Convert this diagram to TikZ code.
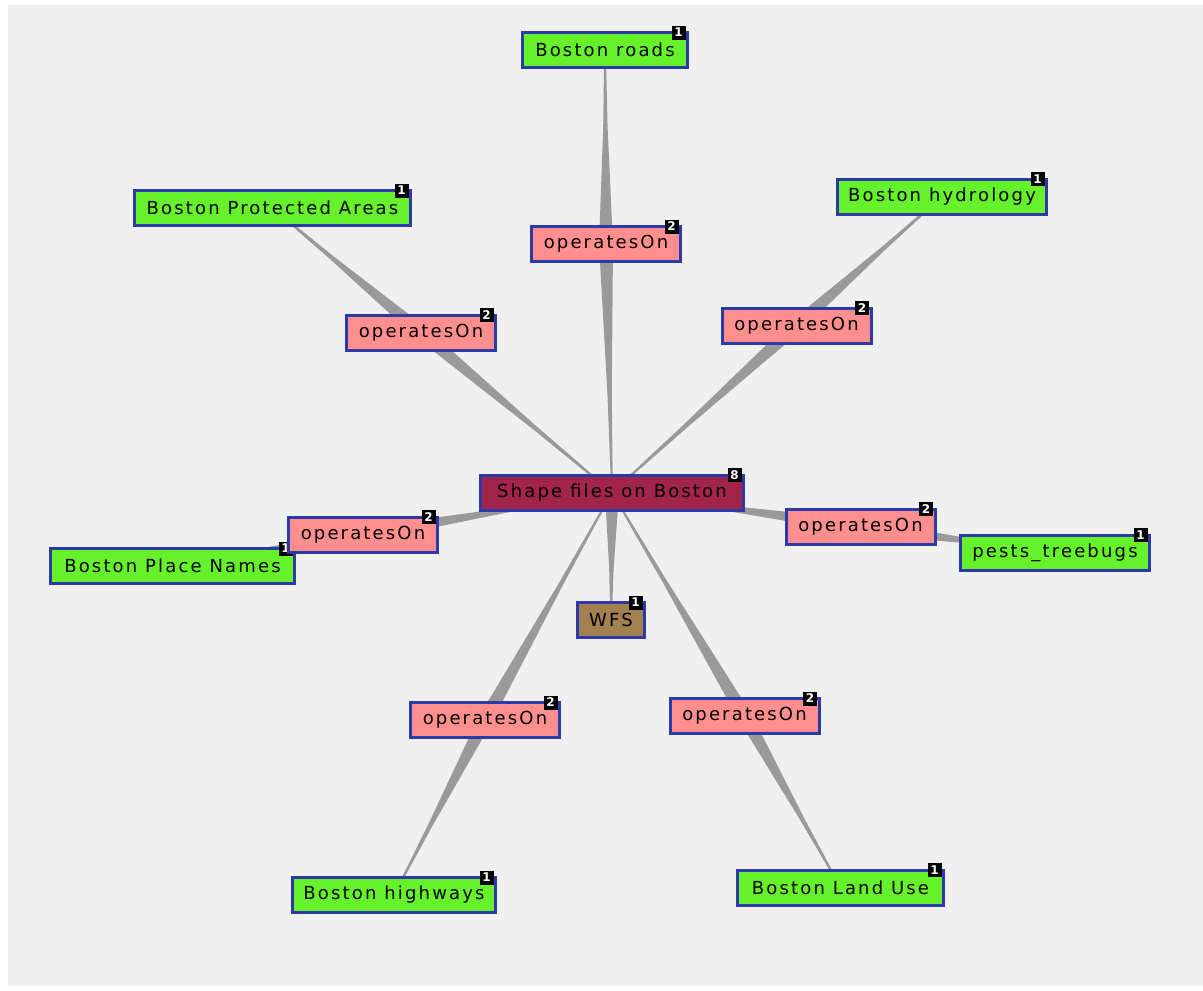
\documentclass[tikz,border=0pt]{standalone}
\usepackage{fontspec}
\usetikzlibrary{calc}
\newfontfamily\nf[LetterSpace=12]{DejaVu Sans}
\newfontfamily\badgefont{DejaVu Sans Bold}
\definecolor{bgcol}{HTML}{F0F0F0}
\definecolor{bordercol}{HTML}{2B3AA6}
\definecolor{leafgreen}{HTML}{66F22A}
\definecolor{oppink}{HTML}{FF8F8F}
\definecolor{centerred}{HTML}{A3244A}
\definecolor{wfsbrown}{HTML}{A3804F}
\definecolor{edgecol}{HTML}{9A9A9A}
\pgfdeclarelayer{bg}
\pgfsetlayers{bg,main}
\newcommand\tedge[2]{\fill[edgecol]
  ($(#1.center)!7pt!90:(#2.center)$) --
  ($($(#1.center)!0.6!(#2.center)$)!2.2pt!90:(#2.center)$) --
  ($(#2.center)!0.8pt!-90:(#1.center)$) --
  ($(#2.center)!0.8pt!90:(#1.center)$) --
  ($($(#1.center)!0.6!(#2.center)$)!2.2pt!-90:(#2.center)$) --
  ($(#1.center)!7pt!-90:(#2.center)$) -- cycle;}
\tikzset{
  box/.style={draw=bordercol, line width=3pt, minimum height=35pt, inner sep=0pt, text=black, font=\nf\fontsize{18}{18}\selectfont},
  leaf/.style={box, fill=leafgreen},
  opbox/.style={box, fill=oppink, minimum width=149pt},
  badge/.style={fill=black, text=white, minimum size=14pt, inner sep=0pt, font=\badgefont\fontsize{12}{12}\selectfont},
}
\begin{document}
\begin{tikzpicture}[x=1pt,y=-1pt]
\useasboundingbox (0,0) rectangle (1203,991);
% nodes
\node[leaf, minimum width=244pt] (place) at (172.5,566) {Boston Place Names};
\node[badge] (bplace) at ($(place.north east)+(-10.5,1.5)$) {1};
\node[box, fill=centerred, minimum width=263pt] (center) at (612,492.5) {Shape files on Boston};
\node[leaf, minimum width=165pt] (roads) at (605,50) {Boston roads};
\node[opbox] (opT) at (606,244) {operatesOn};
\node[leaf, minimum width=276pt] (prot) at (272.5,208) {Boston Protected Areas};
\node[opbox] (opUL) at (421,332.5) {operatesOn};
\node[leaf, minimum width=209pt] (hydro) at (942,196.5) {Boston hydrology};
\node[opbox] (opUR) at (796.5,325.5) {operatesOn};
\node[opbox] (opL) at (363,534.5) {operatesOn};
\node[opbox] (opR) at (860.5,526.5) {operatesOn};
\node[leaf, minimum width=189pt] (pests) at (1055,552.5) {pests\_treebugs};
\node[box, fill=wfsbrown, minimum width=67pt] (wfs) at (611,620) {WFS};
\node[opbox] (opLL) at (485,720) {operatesOn};
\node[opbox] (opLR) at (744.5,716) {operatesOn};
\node[leaf, minimum width=203pt] (highways) at (394,895) {Boston highways};
\node[leaf, minimum width=206pt] (landuse) at (840.5,887.5) {Boston Land Use};
% badges
\node[badge] (bcenter) at ($(center.north east)+(-10.5,1.5)$) {8};
\node[badge] (broads) at ($(roads.north east)+(-10.5,1.5)$) {1};
\node[badge] (bopT) at ($(opT.north east)+(-10.5,1.5)$) {2};
\node[badge] (bprot) at ($(prot.north east)+(-10.5,1.5)$) {1};
\node[badge] (bopUL) at ($(opUL.north east)+(-10.5,1.5)$) {2};
\node[badge] (bhydro) at ($(hydro.north east)+(-10.5,1.5)$) {1};
\node[badge] (bopUR) at ($(opUR.north east)+(-10.5,1.5)$) {2};
\node[badge] (bopL) at ($(opL.north east)+(-10.5,1.5)$) {2};
\node[badge] (bopR) at ($(opR.north east)+(-10.5,1.5)$) {2};
\node[badge] (bpests) at ($(pests.north east)+(-10.5,1.5)$) {1};
\node[badge] (bwfs) at ($(wfs.north east)+(-10.5,1.5)$) {1};
\node[badge] (bopLL) at ($(opLL.north east)+(-10.5,1.5)$) {2};
\node[badge] (bopLR) at ($(opLR.north east)+(-10.5,1.5)$) {2};
\node[badge] (bhighways) at ($(highways.north east)+(-10.5,1.5)$) {1};
\node[badge] (blanduse) at ($(landuse.north east)+(-10.5,1.5)$) {1};
% background and edges
\begin{pgfonlayer}{bg}
\fill[white] (0,0) rectangle (1203,991);
\fill[bgcol] (8,5) rectangle (1203,986);
\tedge{opT}{roads}
\tedge{opT}{center}
\tedge{opUL}{prot}
\tedge{opUL}{center}
\tedge{opUR}{hydro}
\tedge{opUR}{center}
\tedge{opL}{place}
\tedge{opL}{center}
\tedge{opR}{pests}
\tedge{opR}{center}
\tedge{center}{wfs}
\tedge{opLL}{highways}
\tedge{opLL}{center}
\tedge{opLR}{landuse}
\tedge{opLR}{center}
\end{pgfonlayer}
\end{tikzpicture}
\end{document}
